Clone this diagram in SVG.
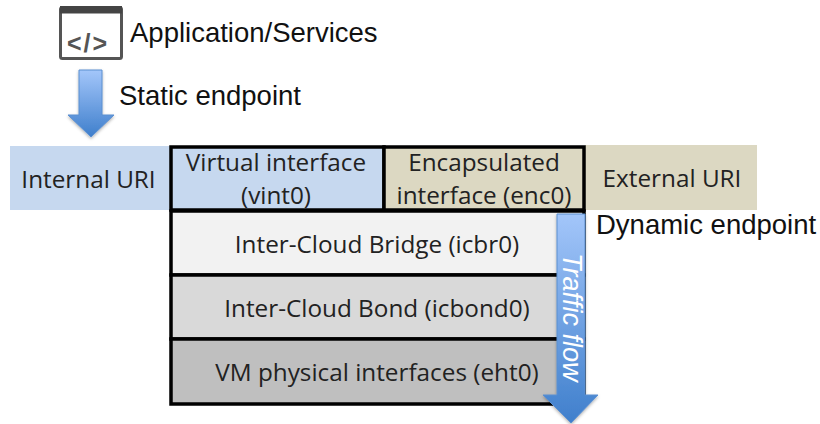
<svg xmlns="http://www.w3.org/2000/svg" width="820" height="424" viewBox="0 0 820 424">
<style>
.a{font-family:"Liberation Sans",Arial,sans-serif;font-size:27.500px;fill:#111}
.c{font-family:"Open Sans","Noto Sans",sans-serif;font-size:24.300px;fill:#222;text-anchor:middle}
.b{stroke:#000;stroke-width:3.500}
.arr{fill:url(#g);stroke:#5b8fd0;stroke-width:1}
</style>
<defs>
<linearGradient id="g" x1="0" y1="0" x2="0" y2="1"><stop offset="0" stop-color="#a3c6fa"/><stop offset="1" stop-color="#3f7fcc"/></linearGradient>
<filter id="s" x="-20%" y="-20%" width="140%" height="140%"><feDropShadow dx="0" dy="1.500" stdDeviation="1.500" flood-color="#000" flood-opacity=".3"/></filter>
</defs>
<g id="uri-internal"><rect x="10" y="146" width="160" height="64" fill="#c6d8ef"/><text class="c" x="88.500" y="188">Internal URI</text></g>
<g id="uri-external"><rect x="585" y="145" width="172" height="65" fill="#dcd8c2"/><text class="c" x="672" y="187">External URI</text></g>
<g id="vint"><rect class="b" x="171" y="147" width="213" height="63" fill="#c6d8ef"/><text class="c" x="276" y="171">Virtual interface</text><text class="c" x="276" y="204">(vint0)</text></g>
<g id="enc"><rect class="b" x="384" y="147" width="200" height="63" fill="#dcd8c2"/><text class="c" x="484" y="171">Encapsulated</text><text class="c" x="484" y="204">interface (enc0)</text></g>
<g id="icbr"><rect class="b" x="171" y="211" width="413" height="64" fill="#f2f2f2"/><text class="c" x="377" y="253">Inter-Cloud Bridge (icbr0)</text></g>
<g id="icbond"><rect class="b" x="171" y="275" width="413" height="64" fill="#d9d9d9"/><text class="c" x="377" y="317">Inter-Cloud Bond (icbond0)</text></g>
<g id="eth"><rect class="b" x="171" y="339" width="413" height="65" fill="#bfbfbf"/><text class="c" x="377" y="381">VM physical interfaces (eht0)</text></g>
<g id="app">
<rect x="60.500" y="7.500" width="61" height="51" rx="2" fill="#fff" stroke="#555" stroke-width="3"/>
<rect x="60" y="6" width="62" height="7.500" fill="#444"/>
<text x="88" y="52" text-anchor="middle" style="font-family:'Liberation Sans',Arial,sans-serif;font-weight:bold;font-size:25px;letter-spacing:2px;fill:#555">&lt;/&gt;</text>
<text class="a" x="130" y="42">Application/Services</text>
</g>
<g id="connectors">
<path class="arr" filter="url(#s)" d="M79 70h23v45h12l-23 22-23-22h11z"/>
<path class="arr" filter="url(#s)" d="M557 214h28v181h13l-27 28-28-28h14z"/>
</g>
<text class="a" x="119" y="105">Static endpoint</text>
<text class="a" x="596" y="234">Dynamic endpoint</text>
<text class="a" transform="translate(563 253) rotate(90)" style="fill:#fff;font-style:italic;font-size:27px">Traffic flow</text>
</svg>
